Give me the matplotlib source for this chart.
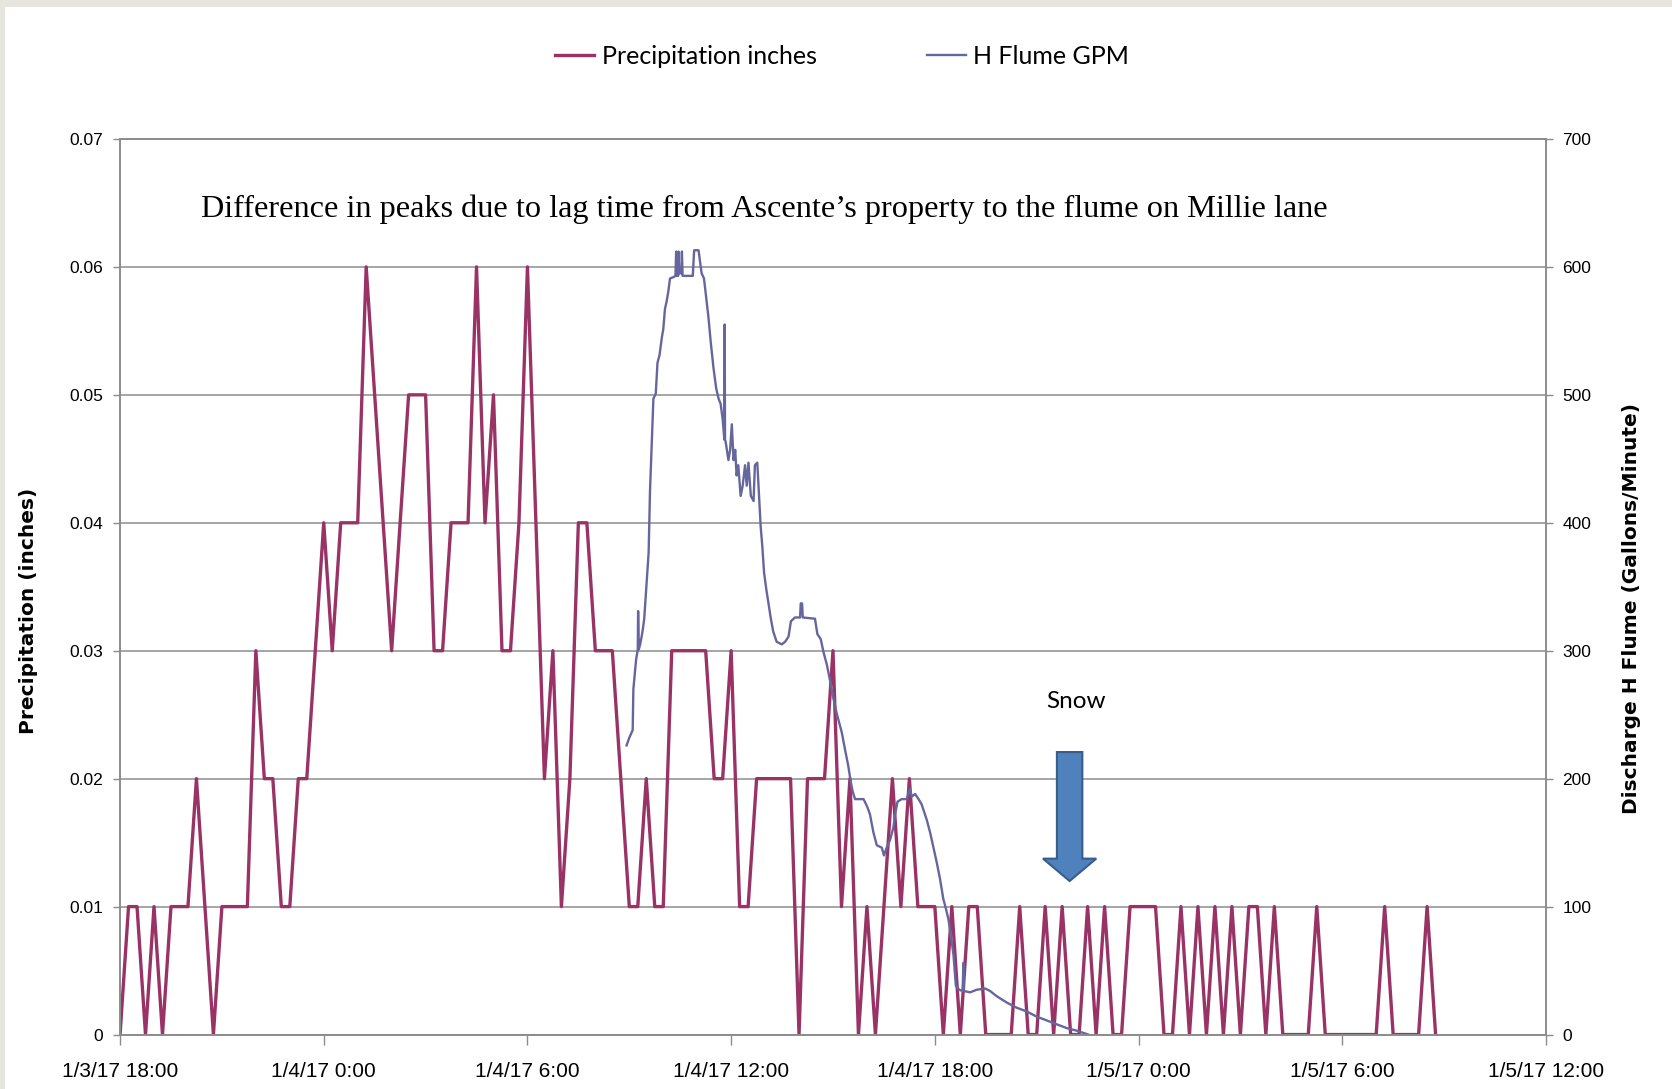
import numpy as np
import matplotlib
matplotlib.use("Agg")
import matplotlib.pyplot as plt
from matplotlib.patches import Rectangle, FancyArrow

plt.rcParams['font.family'] = ['Liberation Sans', 'DejaVu Sans']

# precipitation, 15-minute readings starting 1/3/17 18:00 (inches)
precip = [0, 0.01, 0.01, 0, 0.01, 0, 0.01, 0.01, 0.01, 0.02,
          0.01, 0, 0.01, 0.01, 0.01, 0.01, 0.03, 0.02, 0.02, 0.01,
          0.01, 0.02, 0.02, 0.03, 0.04, 0.03, 0.04, 0.04, 0.04, 0.06,
          0.05, 0.04, 0.03, 0.04, 0.05, 0.05, 0.05, 0.03, 0.03, 0.04,
          0.04, 0.04, 0.06, 0.04, 0.05, 0.03, 0.03, 0.04, 0.06, 0.04,
          0.02, 0.03, 0.01, 0.02, 0.04, 0.04, 0.03, 0.03, 0.03, 0.02,
          0.01, 0.01, 0.02, 0.01, 0.01, 0.03, 0.03, 0.03, 0.03, 0.03,
          0.02, 0.02, 0.03, 0.01, 0.01, 0.02, 0.02, 0.02, 0.02, 0.02,
          0, 0.02, 0.02, 0.02, 0.03, 0.01, 0.02, 0, 0.01, 0,
          0.01, 0.02, 0.01, 0.02, 0.01, 0.01, 0.01, 0, 0.01, 0,
          0.01, 0.01, 0, 0, 0, 0, 0.01, 0, 0, 0.01,
          0, 0.01, 0, 0, 0.01, 0, 0.01, 0, 0, 0.01,
          0.01, 0.01, 0.01, 0, 0, 0.01, 0, 0.01, 0, 0.01,
          0, 0.01, 0, 0.01, 0.01, 0, 0.01, 0, 0, 0,
          0, 0.01, 0, 0, 0, 0, 0, 0, 0, 0.01,
          0, 0, 0, 0, 0.01, 0]
precip_hours = np.arange(len(precip)) * 0.25

# H flume discharge (hours after 1/3/17 18:00, gallons per minute)
flume_hours = [14.92, 15.00, 15.10, 15.12, 15.20, 15.25, 15.26, 15.28, 15.32, 15.37,
               15.40, 15.44, 15.49, 15.54, 15.57, 15.61, 15.66, 15.71, 15.78, 15.83,
               15.89, 15.96, 16.00, 16.05, 16.10, 16.15, 16.20, 16.30, 16.36, 16.38,
               16.40, 16.44, 16.45, 16.47, 16.53, 16.55, 16.57, 16.69, 16.87, 16.91,
               17.04, 17.08, 17.13, 17.20, 17.26, 17.33, 17.40, 17.48, 17.56, 17.63,
               17.69, 17.75, 17.80, 17.81, 17.82, 17.84, 17.92, 17.97, 18.02, 18.07,
               18.12, 18.16, 18.21, 18.28, 18.34, 18.41, 18.46, 18.51, 18.58, 18.66,
               18.70, 18.77, 18.83, 18.87, 18.92, 18.97, 19.03, 19.10, 19.17, 19.24,
               19.34, 19.49, 19.59, 19.69, 19.76, 19.88, 20.03, 20.05, 20.09, 20.11,
               20.47, 20.54, 20.64, 20.72, 20.82, 20.91, 21.01, 21.11, 21.26, 21.36,
               21.45, 21.52, 21.58, 21.65, 21.90, 22.01, 22.09, 22.19, 22.29, 22.44,
               22.50, 22.58, 22.68, 22.78, 22.83, 22.90, 23.02, 23.17, 23.27, 23.32,
               23.42, 23.52, 23.61, 23.76, 23.86, 23.96, 24.06, 24.15, 24.25, 24.33,
               24.40, 24.47, 24.55, 24.62, 24.72, 24.82, 24.84, 24.86, 25.04, 25.23,
               25.48, 25.63, 25.82, 26.12, 26.41, 26.71, 27.00, 27.30, 27.59, 27.89,
               28.18, 28.52]
flume_gpm = [226, 232, 238, 270, 293, 301, 331, 301, 305, 312,
             317, 325, 345, 365, 377, 425, 461, 497, 501, 525,
             531, 545, 551, 567, 573, 581, 591, 592, 593, 612,
             593, 593, 612, 595, 595, 612, 593, 593, 593, 613,
             613, 605, 595, 591, 577, 561, 541, 521, 505, 497,
             493, 481, 465, 555, 465, 463, 449, 457, 477, 449,
             457, 437, 445, 421, 429, 445, 429, 447, 421, 417,
             445, 447, 417, 397, 381, 361, 349, 337, 325, 315,
             307, 305, 307, 311, 323, 326, 326, 337, 337, 326,
             325, 313, 309, 299, 289, 277, 263, 251, 236, 222,
             210, 198, 190, 184, 184, 178, 172, 158, 148, 146,
             140, 146, 152, 162, 172, 182, 184, 184, 192, 186,
             188, 184, 180, 168, 158, 146, 134, 122, 106, 98,
             90, 78, 62, 38, 35, 34, 56, 34, 33, 35,
             36, 34, 30, 25, 21, 18, 14, 11, 8, 5,
             3, 0]

x_ticks = [0, 6, 12, 18, 24, 30, 36, 42]
x_labels = ['1/3/17 18:00', '1/4/17 0:00', '1/4/17 6:00', '1/4/17 12:00',
            '1/4/17 18:00', '1/5/17 0:00', '1/5/17 6:00', '1/5/17 12:00']
precip_ticks = [0, 0.01, 0.02, 0.03, 0.04, 0.05, 0.06, 0.07]
precip_labels = ['0', '0.01', '0.02', '0.03', '0.04', '0.05', '0.06', '0.07']
gpm_ticks = [0, 100, 200, 300, 400, 500, 600, 700]

fig = plt.figure(figsize=(16.72, 10.89), dpi=100)
fig.patch.set_facecolor('#e6e6de')
fig.add_artist(Rectangle((5 / 1672, 0), 1, 1 - 7 / 1089, transform=fig.transFigure,
                         facecolor='white', edgecolor='none', zorder=-1))

ax = fig.add_axes([0.0718, 0.050, 0.8528, 0.8224])
l1, = ax.plot(precip_hours, precip, color='#993366', lw=2.4)
ax.set_xlim(0, 42)
ax.set_ylim(0, 0.07)
ax.set_xticks(x_ticks)
ax.set_xticklabels(x_labels)
ax.set_yticks(precip_ticks)
ax.set_yticklabels(precip_labels)
ax.yaxis.grid(True, color='#969696', lw=1.2)
ax.set_axisbelow(True)

ax2 = ax.twinx()
l2, = ax2.plot(flume_hours, flume_gpm, color='#66669e', lw=1.7)
ax2.set_ylim(0, 700)
ax2.set_yticks(gpm_ticks)

for a in (ax, ax2):
    for s in a.spines.values():
        s.set_color('#8c8c8c')
        s.set_linewidth(1.2)
ax.tick_params(axis='y', length=5, width=1, color='#8c8c8c', pad=7, labelsize=12.5)
ax.tick_params(axis='x', length=7, width=1, color='#8c8c8c', pad=12.5, labelsize=15)
ax2.tick_params(axis='y', length=5, width=1, color='#8c8c8c', pad=7, labelsize=12.5)

# snow arrow
ax.add_patch(FancyArrow(27.97, 0.02208, 0, -0.01008, width=0.75, head_width=1.57,
                        head_length=0.00175, length_includes_head=True,
                        fc='#4f81bd', ec='#385d8a', lw=1.5, zorder=5))

fig.text(0.6435, 0.3555, 'Snow', ha='center', va='center', family='Lato', fontsize=17.5)
fig.text(0.1205, 0.808,
         'Difference in peaks due to lag time from Ascente\u2019s property to the flume on Millie lane',
         ha='left', va='center', family='Liberation Serif', fontsize=23.2)

fig.text(0.0173, 0.439, 'Precipitation (inches)', rotation=90, ha='center', va='center',
         family='DejaVu Sans', fontweight='bold', fontsize=14.5)
fig.text(0.9758, 0.441, 'Discharge H Flume (Gallons/Minute)', rotation=90, ha='center',
         va='center', family='DejaVu Sans', fontweight='bold', fontsize=14.5)

fig.legend([l1, l2], ['Precipitation inches', 'H Flume GPM'], loc='center',
           bbox_to_anchor=(0.5038, 0.948), ncol=2, frameon=False,
           prop={'family': 'Lato', 'size': 18}, handlelength=1.56,
           handletextpad=0.3, columnspacing=4.4)

plt.savefig('out.png', dpi=100, facecolor=fig.get_facecolor())
